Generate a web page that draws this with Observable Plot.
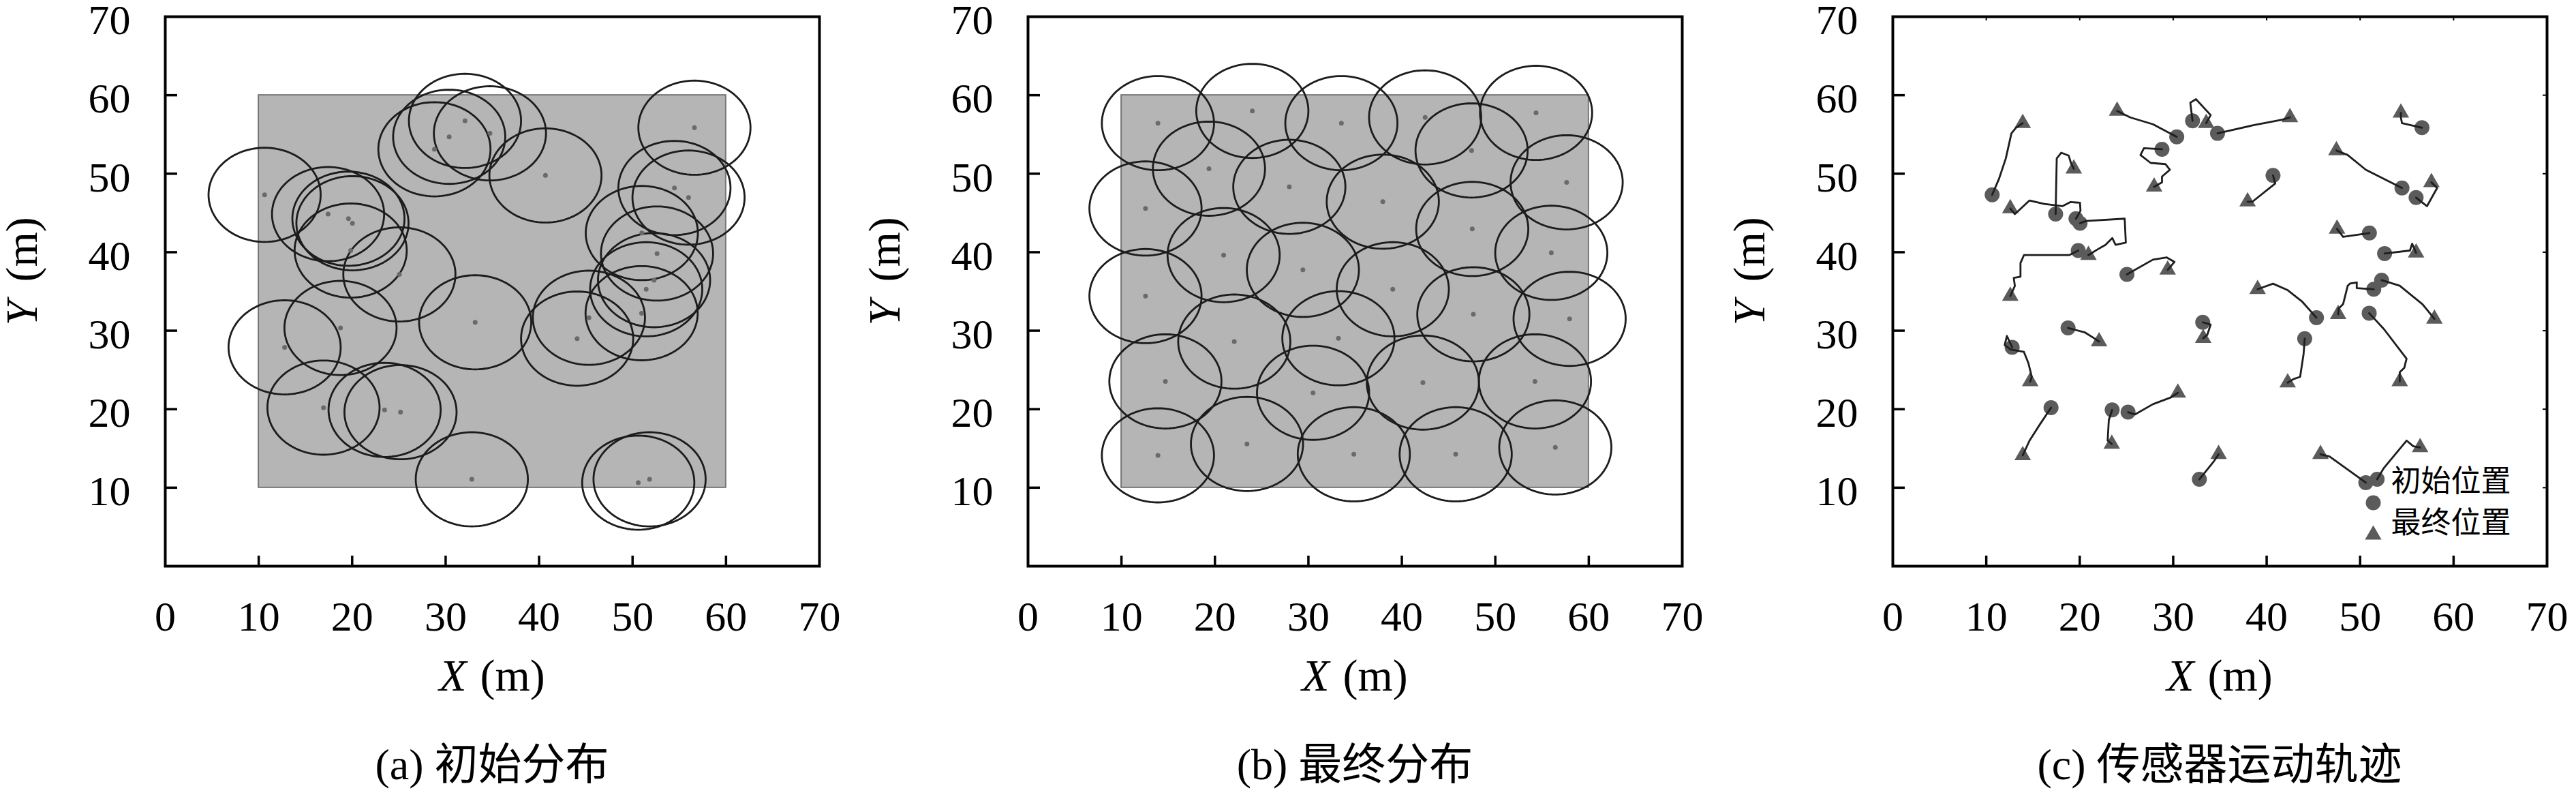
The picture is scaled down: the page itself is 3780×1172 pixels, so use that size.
<!DOCTYPE html>
<html><head><meta charset="utf-8">
<script src="https://cdn.jsdelivr.net/npm/d3@7"></script>
<script src="https://cdn.jsdelivr.net/npm/@observablehq/plot@0.6"></script>
<style>
html,body{margin:0;padding:0;background:#fff;}
#row{position:relative;width:3780px;height:1172px;background:#fff;}
.panel{position:absolute;top:0;}
.cap{position:absolute;top:1090px;font-family:"Liberation Serif","Noto Sans CJK SC",serif;font-size:64px;color:#000;white-space:nowrap;transform:translateX(-50%);line-height:1;}
</style></head><body><div id="row"></div><script>
// ---- data ----
const xTicks = [0, 10, 20, 30, 40, 50, 60, 70];
const yTicks = [10, 20, 30, 40, 50, 60, 70];
const innerTicks = [10, 20, 30, 40, 50, 60];
const fieldX = [10, 60];
const fieldY = [10, 60];
const sensingRadius = 6;
const captions = ["(a) 初始分布", "(b) 最终分布", "(c) 传感器运动轨迹"];
const legendLabels = ["初始位置", "最终位置"];
// each trajectory: from initial position (first point) to final position (last point)
const trajectories = [
  [[10.63,47.31],[11.36,49.34],[12.09,51.95],[12.69,55.14],[13.18,55.86],[13.90,56.44]],
  [[17.42,44.85],[17.47,47.89],[17.54,51.95],[18.02,52.67],[18.82,52.30],[19.06,51.37],[19.36,50.64]],
  [[19.60,44.27],[20.08,45.28],[20.03,46.30],[18.99,46.38],[18.14,45.86],[16.21,46.15],[14.63,46.59],[13.06,44.85],[12.57,45.57]],
  [[20.03,43.69],[20.69,43.98],[24.81,44.27],[24.93,41.22],[23.84,40.93],[23.48,41.80],[22.75,40.93],[21.90,40.35],[20.93,39.63]],
  [[19.84,40.21],[18.87,39.63],[14.03,39.63],[13.66,38.62],[13.66,36.88],[12.94,36.73],[13.06,35.71],[12.57,34.41]],
  [[30.38,54.70],[27.83,56.30],[25.41,57.17],[24.00,58.00]],
  [[28.80,53.11],[26.87,53.25],[26.50,52.38],[27.59,51.37],[29.17,51.22],[29.65,50.50],[28.80,49.63],[28.80,48.90],[27.96,48.33]],
  [[32.07,56.73],[31.83,59.05],[32.44,59.49],[34.01,57.46],[33.53,56.44]],
  [[34.74,55.14],[38.49,56.15],[41.64,56.88],[42.49,57.17]],
  [[25.05,37.17],[27.83,39.05],[29.29,39.34],[30.14,38.76],[29.41,37.75]],
  [[56.62,55.86],[54.48,56.44],[54.36,57.17],[54.36,57.75]],
  [[54.48,48.18],[50.61,50.50],[48.67,52.38],[47.46,52.96]],
  [[40.68,49.78],[40.92,48.76],[38.49,46.44],[37.96,46.44]],
  [[55.99,46.96],[57.15,45.86],[58.24,48.18],[57.63,48.90]],
  [[50.99,42.44],[48.18,41.95],[47.53,42.96]],
  [[52.62,39.83],[55.33,40.21],[55.57,41.08],[55.99,39.92]],
  [[45.33,31.65],[43.82,33.68],[42.20,35.20],[40.68,35.99],[39.03,35.28]],
  [[51.46,35.28],[49.64,35.43],[49.64,36.15],[48.91,36.00],[48.67,35.71],[48.18,33.39],[47.70,32.81],[47.65,32.09]],
  [[52.30,36.44],[54.24,35.72],[56.66,33.39],[57.95,31.51]],
  [[18.75,30.35],[20.57,29.77],[21.54,29.04],[22.07,28.61]],
  [[12.77,27.88],[12.21,29.33],[11.97,28.17],[12.60,27.60],[14.03,27.30],[14.51,25.86],[14.87,24.12],[14.70,23.54]],
  [[16.93,20.20],[15.72,18.03],[14.63,16.00],[13.90,14.12]],
  [[23.47,19.91],[23.11,18.61],[22.99,16.00],[23.43,15.57]],
  [[25.17,19.62],[25.90,19.33],[27.83,20.64],[29.77,21.51],[30.50,22.09]],
  [[33.16,31.07],[34.01,30.78],[33.65,29.48],[33.21,29.04]],
  [[32.80,11.07],[34.37,13.39],[34.86,14.26]],
  [[44.07,28.99],[43.95,27.01],[43.58,24.12],[42.86,23.83],[42.25,23.39]],
  [[50.97,32.23],[52.55,30.20],[54.97,26.43],[54.73,25.28],[54.24,24.70],[54.24,23.54]],
  [[50.61,10.64],[46.73,13.97],[45.76,14.26]],
  [[51.82,11.07],[52.55,12.52],[54.97,16.00],[55.70,15.28],[56.42,15.13]]
];

// ---- derived tables ----
const initial = trajectories.map(t => t[0]);
const final = trajectories.map(t => t[t.length - 1]);
const trajPts = trajectories.flatMap((t, i) => t.map(p => ({id: i, px: p[0], py: p[1]})));
function circleOutline(centers) {
  const n = 96;
  return centers.flatMap((c, i) => d3.range(n + 1).map(k => {
    const a = 2 * Math.PI * k / n;
    return {id: i, px: c[0] + sensingRadius * Math.cos(a), py: c[1] + sensingRadius * Math.sin(a)};
  }));
}
const field = [{x1: fieldX[0], x2: fieldX[1], y1: fieldY[0], y2: fieldY[1]}];

// ---- layout ----
const SERIF = '"Liberation Serif", "Noto Sans CJK SC", serif';
const CJK = '"Noto Sans CJK SC", sans-serif';
const PW = 960, PH = 806, MT = 24, ML = 242, H = 1060;
const panels = [{left: 0, width: 1266}, {left: 1266, width: 1269}, {left: 2535, width: 1245}];
const MARK = "#5b5b5b";

function axes(extraTicks) {
  const m = [
    Plot.tickX(innerTicks, {x: d => d, insetTop: PH - 15, stroke: "black", strokeWidth: 3.5}),
    Plot.tickY(innerTicks, {y: d => d, insetRight: PW - 18, stroke: "black", strokeWidth: 3.5}),
    Plot.axisX(xTicks, {tickSize: 0, tickPadding: 50, label: null}),
    Plot.axisY(yTicks, {tickSize: 0, tickPadding: 51, dy: 6, label: null}),
    Plot.frame({stroke: "black", strokeWidth: 4}),
    Plot.text(["X"], {frameAnchor: "bottom", dx: -38, dy: 182, textAnchor: "end", fontStyle: "italic", fontSize: 66}),
    Plot.text(["(m)"], {frameAnchor: "bottom", dx: -18, dy: 182, textAnchor: "start", fontSize: 66}),
    Plot.text(["Y"], {frameAnchor: "left", dx: -210, dy: 50, rotate: -90, textAnchor: "start", fontStyle: "italic", fontSize: 66}),
    Plot.text(["(m)"], {frameAnchor: "left", dx: -210, dy: -14, rotate: -90, textAnchor: "start", fontSize: 66})
  ];
  if (extraTicks) {
    m.push(Plot.tickX(innerTicks, {x: d => d, insetBottom: PH - 6, stroke: "black", strokeWidth: 2}));
    m.push(Plot.tickY(innerTicks, {y: d => d, insetLeft: PW - 6, stroke: "black", strokeWidth: 2}));
  }
  return m;
}

function makePlot(i, marks) {
  const p = panels[i];
  return Plot.plot({
    width: p.width, height: H,
    marginLeft: ML, marginRight: p.width - ML - PW, marginTop: MT, marginBottom: H - MT - PH,
    x: {domain: [0, 70], axis: null, label: null},
    y: {domain: [0, 70], axis: null, label: null},
    style: {fontFamily: SERIF, fontSize: "62px", background: "white", color: "black", overflow: "visible"},
    marks
  });
}

const distMarks = (centers) => [
  Plot.rect(field, {x1: "x1", x2: "x2", y1: "y1", y2: "y2", fill: "#b5b5b5", stroke: "#777", strokeWidth: 2}),
  Plot.line(circleOutline(centers), {x: "px", y: "py", z: "id", stroke: "#1c1c1c", strokeWidth: 2.8}),
  Plot.dot(centers, {x: d => d[0], y: d => d[1], r: 3.5, fill: "#6a6a6a"}),
  ...axes(false)
];

const plots = [
  makePlot(0, distMarks(initial)),
  makePlot(1, distMarks(final)),
  makePlot(2, [
    Plot.dot(initial, {x: d => d[0], y: d => d[1], r: 11, fill: MARK}),
    Plot.dot(final, {x: d => d[0], y: d => d[1], r: 9, symbol: "triangle", fill: MARK}),
    Plot.line(trajPts, {x: "px", y: "py", z: "id", stroke: "#1e1e1e", strokeWidth: 2.8}),
    Plot.dot([0], {frameAnchor: "bottom-right", dx: -255, dy: -93, r: 11, fill: MARK}),
    Plot.dot([0], {frameAnchor: "bottom-right", dx: -255, dy: -46, r: 9, symbol: "triangle", fill: MARK}),
    Plot.text([legendLabels[0]], {frameAnchor: "bottom-right", dx: -229, dy: -110, textAnchor: "start", fontSize: 44, fontFamily: CJK}),
    Plot.text([legendLabels[1]], {frameAnchor: "bottom-right", dx: -229, dy: -49, textAnchor: "start", fontSize: 44, fontFamily: CJK}),
    ...axes(true)
  ])
];

const row = document.getElementById("row");
plots.forEach((svg, i) => {
  const div = document.createElement("div");
  div.className = "panel";
  div.style.left = panels[i].left + "px";
  div.style.width = panels[i].width + "px";
  div.style.height = "1172px";
  div.appendChild(svg);
  const cap = document.createElement("div");
  cap.className = "cap";
  cap.style.left = (ML + PW / 2) + "px";
  cap.textContent = captions[i];
  div.appendChild(cap);
  row.appendChild(div);
});
</script></body></html>
